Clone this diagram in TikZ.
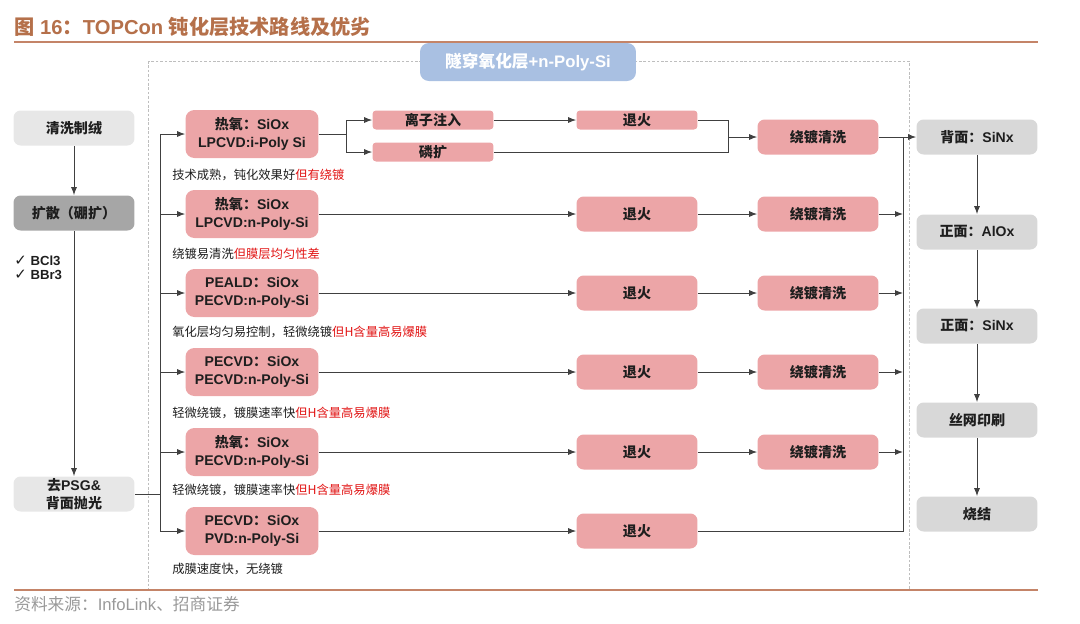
\documentclass[tikz,border=0pt]{standalone}
\usepackage{fontspec}
\setmainfont{Liberation Sans}
\newfontfamily\cjk{Noto Sans CJK SC}
\newfontfamily\sym{DejaVu Sans}
\usetikzlibrary{arrows.meta,positioning,calc}
\definecolor{tpPink}  {RGB}{236,165,167}
\definecolor{tpGrey}  {RGB}{216,216,216}
\definecolor{tpGreyL} {RGB}{231,231,231}
\definecolor{tpGreyD} {RGB}{166,166,166}
\definecolor{tpBlue}  {RGB}{169,192,226}
\definecolor{tpBrown} {RGB}{181,112, 74}
\definecolor{tpRule}  {RGB}{196,132,104}
\definecolor{tpRed}   {RGB}{225, 20, 20}
\definecolor{tpLine}  {RGB}{ 64, 64, 64}
\definecolor{tpText}  {RGB}{ 30, 30, 30}
\definecolor{tpDash}  {RGB}{190,190,190}
\newcommand{\zh}[1]{{\cjk #1}}
\newcommand{\warn}[1]{\textcolor{tpRed}{#1}}

\begin{document}
\begin{tikzpicture}[x=0.02cm,y=-0.02cm,
  every node/.style={font=\fontsize{8}{10}\selectfont\bfseries,text=tpText},
  >={Latex[length=1.6mm,width=1.2mm]},
  link/.style={draw=tpLine,line width=0.5pt},
  route/.style={fill=tpPink,rounded corners=5pt,minimum width=2.66cm,
                minimum height=0.96cm,align=center,inner sep=1pt},
  substep/.style={fill=tpPink,rounded corners=2pt,minimum width=2.42cm,
                minimum height=0.38cm,inner sep=0pt},
  heat/.style={fill=tpPink,rounded corners=4pt,minimum width=2.42cm,
                minimum height=0.7cm},
  prep/.style={fill=tpGreyL,rounded corners=4pt,minimum width=2.42cm,
                minimum height=0.7cm,align=center,inner sep=1pt},
  cell/.style={fill=tpGrey,rounded corners=4pt,minimum width=2.42cm,
                minimum height=0.7cm},
  note/.style={anchor=west,font=\fontsize{7}{8}\selectfont,inner sep=0pt}
]
\useasboundingbox (0,0) rectangle (1080,623);

% frame and title
\draw[tpDash,line width=0.5pt,dash pattern=on 1.5pt off 1pt] (148,61) rectangle (909,590);
\node[anchor=west,inner sep=0pt,text=tpBrown,font=\fontsize{11.5}{13}\selectfont\bfseries]
  (title) at (14,27) {\zh{图} 16\zh{：}TOPCon \zh{钝化层技术路线及优劣}};
\draw[tpRule,line width=1.2pt] (14,42) -- (1038,42);
\draw[tpRule,line width=1.2pt] (14,590) -- (1038,590);
\node[anchor=west,inner sep=0pt,text=black!40,font=\fontsize{9.5}{11}\selectfont]
  (src) at (14,604) {\zh{资料来源：}InfoLink\zh{、招商证券}};
\node[fill=tpBlue,rounded corners=5pt,minimum width=4.32cm,minimum height=0.76cm,
  text=white,font=\fontsize{9.5}{11}\selectfont\bfseries] (tunnel) at (528,62)
  {\zh{隧穿氧化层}+n-Poly-Si};

% front end
\node[prep] (wash) at (74,128) {\zh{清洗制绒}};
\node[prep,fill=tpGreyD] (diff) at (74,213) {\zh{扩散（硼扩）}};
\node[anchor=west,align=left,inner sep=0pt,font=\fontsize{7.5}{8}\selectfont\bfseries]
  (gas) at (14,268) {{\sym\mdseries\fontsize{8.5}{8}\selectfont ✓} BCl3\\{\sym\mdseries\fontsize{8.5}{8}\selectfont ✓} BBr3};
\node[prep] (psg) at (74,494) {\zh{去}PSG\&\\\zh{背面抛光}};

% passivation routes
\node[route] (r1) at (252,134) {\zh{热氧：}SiOx\\LPCVD:i-Poly Si};
\node[route] (r2) at (252,214) {\zh{热氧：}SiOx\\LPCVD:n-Poly-Si};
\node[route] (r3) at (252,293) {PEALD\zh{：}SiOx\\PECVD:n-Poly-Si};
\node[route] (r4) at (252,372) {PECVD\zh{：}SiOx\\PECVD:n-Poly-Si};
\node[route] (r5) at (252,452) {\zh{热氧：}SiOx\\PECVD:n-Poly-Si};
\node[route] (r6) at (252,531) {PECVD\zh{：}SiOx\\PVD:n-Poly-Si};

\node[note] (n1) at (172,175) {\zh{技术成熟，钝化效果好\warn{但有绕镀}}};
\node[note] (n2) at (172,254) {\zh{绕镀易清洗\warn{但膜层均匀性差}}};
\node[note] (n3) at (172,332) {\zh{氧化层均匀易控制，轻微绕镀\warn{但H含量高易爆膜}}};
\node[note] (n4) at (172,413) {\zh{轻微绕镀，镀膜速率快\warn{但H含量高易爆膜}}};
\node[note] (n5) at (172,490) {\zh{轻微绕镀，镀膜速率快\warn{但H含量高易爆膜}}};
\node[note] (n6) at (172,569) {\zh{成膜速度快，无绕镀}};

\node[substep] (ion)  at (433,120) {\zh{离子注入}};
\node[substep] (pdif) at (433,152) {\zh{磷扩}};
\node[substep] (ann1) at (637,120) {\zh{退火}};
\node[heat] (cln1) at (818,137) {\zh{绕镀清洗}};
\foreach \r/\y in {2/214,3/293,4/372,5/452,6/531}
  \node[heat] (ann\r) at (637,\y) {\zh{退火}};
\foreach \r/\y in {2/214,3/293,4/372,5/452}
  \node[heat] (cln\r) at (818,\y) {\zh{绕镀清洗}};

% back end
\node[cell] (back)  at (977,137) {\zh{背面：}SiNx};
\node[cell] (alox)  at (977,232) {\zh{正面：}AlOx};
\node[cell] (sinx)  at (977,326) {\zh{正面：}SiNx};
\node[cell] (print) at (977,420) {\zh{丝网印刷}};
\node[cell] (fire)  at (977,514) {\zh{烧结}};

\coordinate (lbus)  at (160,494);
\coordinate (split) at (346,134);
\coordinate (merge) at (728,137);
\coordinate (rbus)  at (903,137);

% connectors
\draw[link,->] (wash) -- (diff);
\draw[link,->] (diff) -- (psg);
\draw[link] (psg) -- (lbus);
\foreach \r in {1,...,6}
  \draw[link,->] (lbus) |- (r\r);
\draw[link] (r1) -- (split);
\draw[link,->] (split) |- (ion);
\draw[link,->] (split) |- (pdif);
\draw[link,->] (ion) -- (ann1);
\draw[link] (ann1) -| (merge);
\draw[link] (pdif) -| (merge);
\draw[link,->] (merge) -- (cln1);
\draw[link,->] (cln1) -- (back);
\foreach \r in {2,...,5} {
  \draw[link,->] (r\r) -- (ann\r);
  \draw[link,->] (ann\r) -- (cln\r);
  \draw[link,->] (cln\r) -- (rbus |- cln\r);
}
\draw[link,->] (r6) -- (ann6);
\draw[link] (ann6) -| (rbus);
\draw[link,->] (back) -- (alox);
\draw[link,->] (alox) -- (sinx);
\draw[link,->] (sinx) -- (print);
\draw[link,->] (print) -- (fire);
\end{tikzpicture}
\end{document}
